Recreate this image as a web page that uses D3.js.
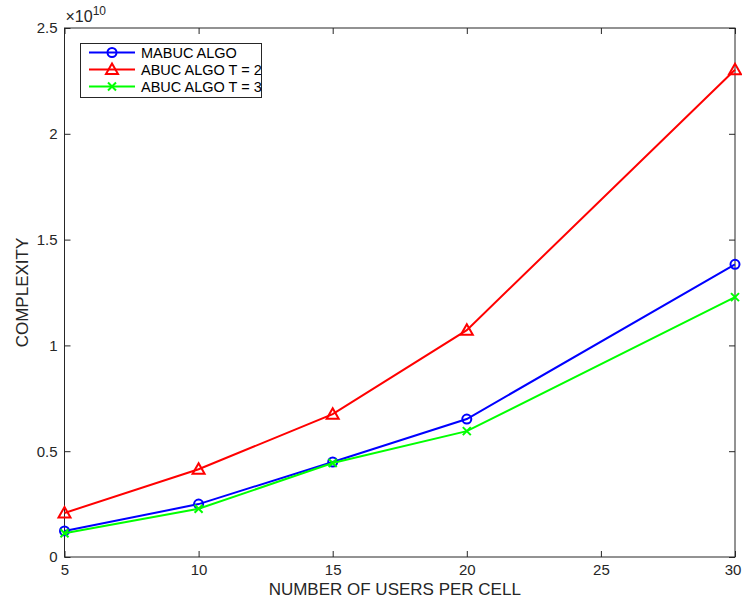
<!DOCTYPE html>
<html><head><meta charset="utf-8">
<script src="https://cdn.jsdelivr.net/npm/d3@7"></script>
<style>body{margin:0;background:#fff;} text{font-family:"Liberation Sans",Arial,Helvetica,sans-serif;}</style>
</head><body>
<svg id="c" width="742" height="601"></svg>
<script>
const users = [5, 10, 15, 20, 30];
const mabuc = [0.123e10, 0.250e10, 0.449e10, 0.652e10, 1.383e10];
const abucT2 = [0.208e10, 0.415e10, 0.675e10, 1.072e10, 2.303e10];
const abucT3 = [0.112e10, 0.228e10, 0.444e10, 0.595e10, 1.228e10];
const xTicks = [5, 10, 15, 20, 25, 30];
const yTicks = [0, 0.5e10, 1e10, 1.5e10, 2e10, 2.5e10];
const yTickLabels = ["0", "0.5", "1", "1.5", "2", "2.5"];
const seriesNames = ["MABUC ALGO", "ABUC ALGO T = 2", "ABUC ALGO T = 3"];

const L = 64.5, R = 735, T = 28, B = 557;
const svg = d3.select("#c");
const x = d3.scaleLinear().domain([5, 30]).range([L, R]);
const y = d3.scaleLinear().domain([0, 2.5e10]).range([B, T]);
const axisColor = "#262626";

svg.append("rect").attr("x", L).attr("y", T).attr("width", R - L).attr("height", B - T)
  .attr("fill", "none").attr("stroke", axisColor).attr("stroke-width", 1);

const tl = 6;
const gx = svg.append("g").attr("transform", `translate(0,${B})`)
  .call(d3.axisBottom(x).tickValues(xTicks).tickSize(-tl).tickPadding(7).tickFormat(d3.format("d")));
const gxt = svg.append("g").attr("transform", `translate(0,${T})`)
  .call(d3.axisTop(x).tickValues(xTicks).tickSize(-tl).tickFormat(""));
const gy = svg.append("g").attr("transform", `translate(${L},0)`)
  .call(d3.axisLeft(y).tickValues(yTicks).tickSize(-tl).tickPadding(7).tickFormat((d, i) => yTickLabels[i]));
const gyr = svg.append("g").attr("transform", `translate(${R},0)`)
  .call(d3.axisRight(y).tickValues(yTicks).tickSize(-tl).tickFormat(""));
[gx, gxt, gy, gyr].forEach(g => {
  g.attr("font-size", 15).attr("font-family", '"Liberation Sans",Arial,sans-serif');
  g.select(".domain").remove();
  g.selectAll(".tick line").attr("stroke", axisColor);
  g.selectAll(".tick text").attr("fill", axisColor);
});
// keep last x label inside the canvas
gx.selectAll(".tick").filter(d => d === 30).select("text").attr("dx", -2.5);

const ex = svg.append("text").attr("x", L + 1).attr("y", 22).attr("fill", axisColor)
  .style("font-size", "16px");
ex.append("tspan").text("\u00d710");
ex.append("tspan").attr("dy", -7).style("font-size", "12px").text("10");

svg.append("text").attr("x", (L + R) / 2 - 5).attr("y", 595).attr("text-anchor", "middle")
  .attr("fill", axisColor).style("font-size", "17px").text("NUMBER OF USERS PER CELL");
svg.append("text").attr("transform", `translate(28,${(T + B) / 2}) rotate(-90)`)
  .attr("text-anchor", "middle").attr("fill", axisColor).style("font-size", "17px").text("COMPLEXITY");

const colors = ["#0000ff", "#ff0000", "#00ff00"];
const data = [mabuc, abucT2, abucT3];
const line = d3.line().x(d => x(d[0])).y(d => y(d[1]));

function marker(g, type, cx, cy, color) {
  if (type === 0) {
    g.append("circle").attr("cx", cx).attr("cy", cy).attr("r", 4.5)
      .attr("fill", "none").attr("stroke", color).attr("stroke-width", 2);
  } else if (type === 1) {
    const s = 6;
    g.append("path").attr("d", `M${cx},${cy - s}L${cx + s},${cy + s * 0.75}L${cx - s},${cy + s * 0.75}Z`)
      .attr("fill", "none").attr("stroke", color).attr("stroke-width", 2);
  } else {
    const s = 4;
    g.append("path").attr("d", `M${cx - s},${cy - s}L${cx + s},${cy + s}M${cx - s},${cy + s}L${cx + s},${cy - s}`)
      .attr("stroke", color).attr("stroke-width", 2);
  }
}

data.forEach((vals, i) => {
  const pts = users.map((u, j) => [u, vals[j]]);
  const g = svg.append("g");
  g.append("path").attr("d", line(pts)).attr("fill", "none").attr("stroke", colors[i]).attr("stroke-width", 2);
  pts.forEach(p => marker(g, i, x(p[0]), y(p[1]), colors[i]));
});

const lg = svg.append("g");
lg.append("rect").attr("x", 80.5).attr("y", 43.5).attr("width", 181).attr("height", 54)
  .attr("fill", "#fff").attr("stroke", axisColor).attr("stroke-width", 1);
seriesNames.forEach((n, i) => {
  const yy = 52.5 + i * 17;
  lg.append("line").attr("x1", 89).attr("x2", 135).attr("y1", yy).attr("y2", yy)
    .attr("stroke", colors[i]).attr("stroke-width", 2);
  marker(lg, i, 112, yy, colors[i]);
  lg.append("text").attr("x", 141).attr("y", yy + 5).attr("fill", "#000").style("font-size", "14.5px").text(n);
});
</script>
</body></html>
